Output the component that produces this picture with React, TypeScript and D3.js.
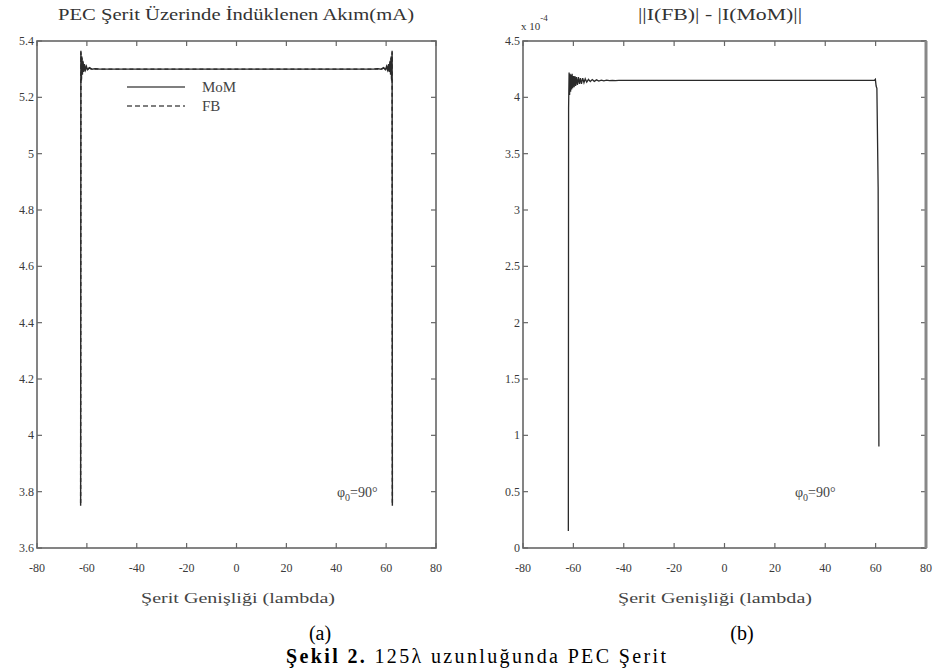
import React from 'react';
import * as d3 from 'd3';

// (a) induced current on the strip, MoM and FB
const stripX = [-62.5, -62.4, -62.2, -62.0, -61.8, -61.6, -61.3, -61.0, -60.6, -60.2, -59.7, -59.0, -58.0, -56.5, -55.0, 0, 55.0, 56.5, 58.0, 59.0, 59.7, 60.2, 60.6, 61.0, 61.3, 61.6, 61.8, 62.0, 62.2, 62.4, 62.5];
const momCurrent = [3.75, 5.365, 5.26, 5.345, 5.28, 5.33, 5.29, 5.318, 5.295, 5.31, 5.298, 5.305, 5.3, 5.302, 5.3, 5.3, 5.3, 5.302, 5.3, 5.305, 5.298, 5.31, 5.295, 5.318, 5.29, 5.33, 5.28, 5.345, 5.26, 5.365, 3.75];
const fbCurrent = [3.76, 5.36, 5.265, 5.34, 5.285, 5.325, 5.292, 5.315, 5.297, 5.308, 5.299, 5.304, 5.3, 5.301, 5.3, 5.3, 5.3, 5.301, 5.3, 5.304, 5.299, 5.308, 5.297, 5.315, 5.292, 5.325, 5.285, 5.34, 5.265, 5.36, 3.76];

// (b) ||I(FB)| - |I(MoM)|| in units of 1e-4
const diffX = [-62.0, -61.9, -61.7, -61.5, -61.3, -61.1, -60.9, -60.7, -60.5, -60.3, -60.0, -59.7, -59.4, -59.1, -58.8, -58.4, -58.0, -57.6, -57.2, -56.8, -56.3, -55.8, -55.3, -54.7, -54.0, -53.3, -52.5, -51.7, -50.8, -49.9, -48.9, -47.9, -46.8, -45.7, -44.5, -43.3, -42.0, -30.0, 0, 59.5, 59.9, 60.2, 60.5, 61.0, 61.3];
const diffVal = [0.15, 3.9, 4.22, 4.02, 4.21, 4.05, 4.2, 4.07, 4.21, 4.08, 4.19, 4.09, 4.19, 4.1, 4.18, 4.11, 4.18, 4.12, 4.17, 4.12, 4.17, 4.13, 4.165, 4.135, 4.16, 4.14, 4.158, 4.142, 4.155, 4.145, 4.153, 4.147, 4.152, 4.148, 4.151, 4.149, 4.15, 4.15, 4.15, 4.15, 4.16, 4.1, 4.08, 3.2, 0.9];

const xTicks = [-80, -60, -40, -20, 0, 20, 40, 60, 80];
const leftYTicks = [3.6, 3.8, 4, 4.2, 4.4, 4.6, 4.8, 5, 5.2, 5.4];
const rightYTicks = [0, 0.5, 1, 1.5, 2, 2.5, 3, 3.5, 4, 4.5];

const ink = '#2a2a2a';
const axisColor = '#666';
const serif = '"Liberation Serif", "DejaVu Serif", serif';

type PanelProps = {
  x: d3.ScaleLinear<number, number>;
  y: d3.ScaleLinear<number, number>;
  yTicks: number[];
};

function Frame({ x, y, yTicks }: PanelProps) {
  const [x0, x1] = x.range();
  const [y0, y1] = y.range();
  const fmt = (v: number) => String(+v.toFixed(1));
  return (
    <g>
      <rect x={x0} y={y1} width={x1 - x0} height={y0 - y1} fill="none" stroke={axisColor} strokeWidth={1.6} />
      {xTicks.map((t) => (
        <g key={'x' + t}>
          <line x1={x(t)} x2={x(t)} y1={y0} y2={y0 - 5} stroke={axisColor} strokeWidth={1.2} />
          <line x1={x(t)} x2={x(t)} y1={y1} y2={y1 + 5} stroke={axisColor} strokeWidth={1.2} />
          <text x={x(t)} y={y0 + 24} textAnchor="middle" fontSize={12} fill="#3a3a3a" fontFamily={serif}>
            {t}
          </text>
        </g>
      ))}
      {yTicks.map((t) => (
        <g key={'y' + t}>
          <line x1={x0} x2={x0 + 5} y1={y(t)} y2={y(t)} stroke={axisColor} strokeWidth={1.2} />
          <line x1={x1} x2={x1 - 5} y1={y(t)} y2={y(t)} stroke={axisColor} strokeWidth={1.2} />
          <text x={x0 - 3} y={y(t) + 4} textAnchor="end" fontSize={12} fill="#3a3a3a" fontFamily={serif}>
            {fmt(t)}
          </text>
        </g>
      ))}
    </g>
  );
}

export default function App() {
  const xA = d3.scaleLinear().domain([-80, 80]).range([37, 436]);
  const yA = d3.scaleLinear().domain([3.6, 5.4]).range([548, 41]);
  const xB = d3.scaleLinear().domain([-80, 80]).range([523, 926]);
  const yB = d3.scaleLinear().domain([0, 4.5]).range([548, 41]);

  const lineA = d3
    .line<number>()
    .x((_, i) => xA(stripX[i]))
    .y((d) => yA(d));
  const lineB = d3
    .line<number>()
    .x((_, i) => xB(diffX[i]))
    .y((d) => yB(d));

  return (
    <svg width={933} height={668} style={{ position: 'absolute', left: 0, top: 0, background: '#fff' }}>
      {/* panel (a) */}
      <text x={236} y={20} textAnchor="middle" fontSize={16} fill="#333" fontFamily={serif} textLength={356} lengthAdjust="spacingAndGlyphs">
        PEC Şerit Üzerinde İndüklenen Akım(mA)
      </text>
      <Frame x={xA} y={yA} yTicks={leftYTicks} />
      <path d={lineA(fbCurrent) || ''} fill="none" stroke={ink} strokeWidth={1.4} strokeDasharray="4,3" />
      <path d={lineA(momCurrent) || ''} fill="none" stroke={ink} strokeWidth={1.4} />
      <line x1={127} x2={185} y1={87} y2={87} stroke="#555" strokeWidth={1.6} />
      <line x1={127} x2={185} y1={106} y2={106} stroke="#555" strokeWidth={1.6} strokeDasharray="5,3" />
      <text x={202} y={92} fontSize={15} fill="#444" fontFamily={serif}>MoM</text>
      <text x={202} y={111} fontSize={15} fill="#444" fontFamily={serif}>FB</text>
      <text x={337} y={497} fontSize={14} fill="#444" fontFamily={serif}>
        φ<tspan fontSize={10} dy={4}>0</tspan>
        <tspan dy={-4}>=90°</tspan>
      </text>
      <text x={238} y={603} textAnchor="middle" fontSize={15} fill="#444" fontFamily={serif} textLength={194} lengthAdjust="spacingAndGlyphs">
        Şerit Genişliği (lambda)
      </text>

      {/* panel (b) */}
      <text x={720} y={20} textAnchor="middle" fontSize={16} fill="#333" fontFamily={serif} textLength={164} lengthAdjust="spacingAndGlyphs">
        ||I(FB)| - |I(MoM)||
      </text>
      <text x={521} y={30} fontSize={11} fill="#333" fontFamily={serif}>
        x 10<tspan fontSize={9} dy={-9}>-4</tspan>
      </text>
      <Frame x={xB} y={yB} yTicks={rightYTicks} />
      <line x1={926} x2={926} y1={41} y2={548} stroke="#888" strokeWidth={3} />
      <path d={lineB(diffVal) || ''} fill="none" stroke={ink} strokeWidth={1.3} />
      <text x={795} y={497} fontSize={14} fill="#444" fontFamily={serif}>
        φ<tspan fontSize={10} dy={4}>0</tspan>
        <tspan dy={-4}>=90°</tspan>
      </text>
      <text x={715} y={603} textAnchor="middle" fontSize={15} fill="#444" fontFamily={serif} textLength={194} lengthAdjust="spacingAndGlyphs">
        Şerit Genişliği (lambda)
      </text>

      {/* figure labels */}
      <text x={320} y={640} textAnchor="middle" fontSize={20} fill="#000" fontFamily={serif}>(a)</text>
      <text x={742} y={640} textAnchor="middle" fontSize={20} fill="#000" fontFamily={serif}>(b)</text>
      <text x={476} y={663} textAnchor="middle" fontSize={20} fill="#000" fontFamily={serif} textLength={380} lengthAdjust="spacing">
        <tspan fontWeight="bold">Şekil 2.</tspan> 125λ uzunluğunda PEC Şerit
      </text>
    </svg>
  );
}
